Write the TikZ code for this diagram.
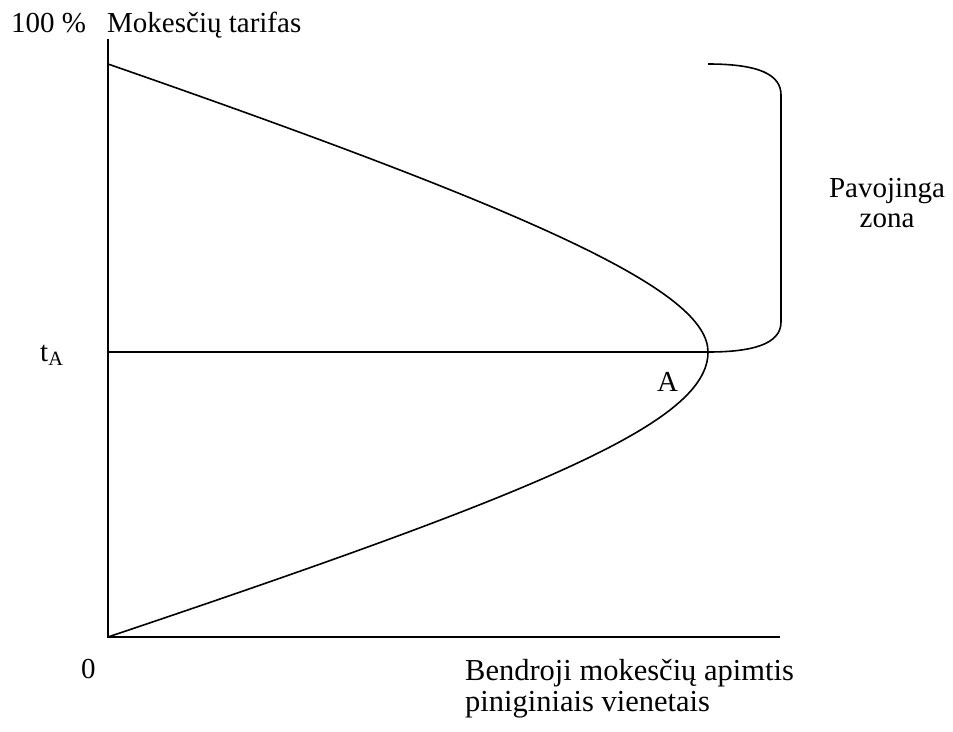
\documentclass[tikz,border=0pt]{standalone}
\usepackage{fontspec}
\setmainfont{Liberation Serif}
\begin{document}
\begin{tikzpicture}[x=1pt,y=-1pt,
  ln/.style={line width=1.6pt},
  lbl/.style={inner sep=0pt,font=\fontsize{29}{34}\selectfont},
  blbl/.style={inner sep=0pt,font=\fontsize{30.5}{34}\selectfont}]
\useasboundingbox (0,0) rectangle (953,731);
% axes
\coordinate (top) at (108,39);
\coordinate (O) at (108,637);
\coordinate (xend) at (780,637);
\coordinate (tA) at (108,352);
\coordinate (A) at (708,352);
\coordinate (hi) at (108,64);
\draw[ln] (top) -- (O) -- (xend);
\draw[ln] (tA) -- (A);
% curve
\draw[ln] (hi) .. controls (545,216) and (708,292) .. (A)
          .. controls (708,422) and (545,490) .. (O);
% bracket
\coordinate (b1) at (708,64);
\draw[ln] (b1) .. controls (760,64) and (781,75) .. (781,95)
   -- (781,322) .. controls (781,345) and (750,352) .. (A);
% labels
\node[lbl,anchor=base west] (p100) at (11,32) {100 \%};
\node[lbl,anchor=base west] (ylab) at (107,32) {Mokesčių tarifas};
\node[lbl,anchor=base west] (tlab) at (40,361) {t\textsubscript{A}};
\node[lbl,anchor=base west] (alab) at (657,391) {A};
\node[lbl,anchor=base west] (zero) at (81,678) {0};
\node[blbl,anchor=base west] (x1) at (465,680) {Bendroji mokesčių apimtis};
\node[blbl,anchor=base west] (x2) at (465,711) {piniginiais vienetais};
\node[lbl,anchor=base] (z1) at (887,197) {Pavojinga};
\node[lbl,anchor=base] (z2) at (887,227) {zona};
\end{tikzpicture}
\end{document}
